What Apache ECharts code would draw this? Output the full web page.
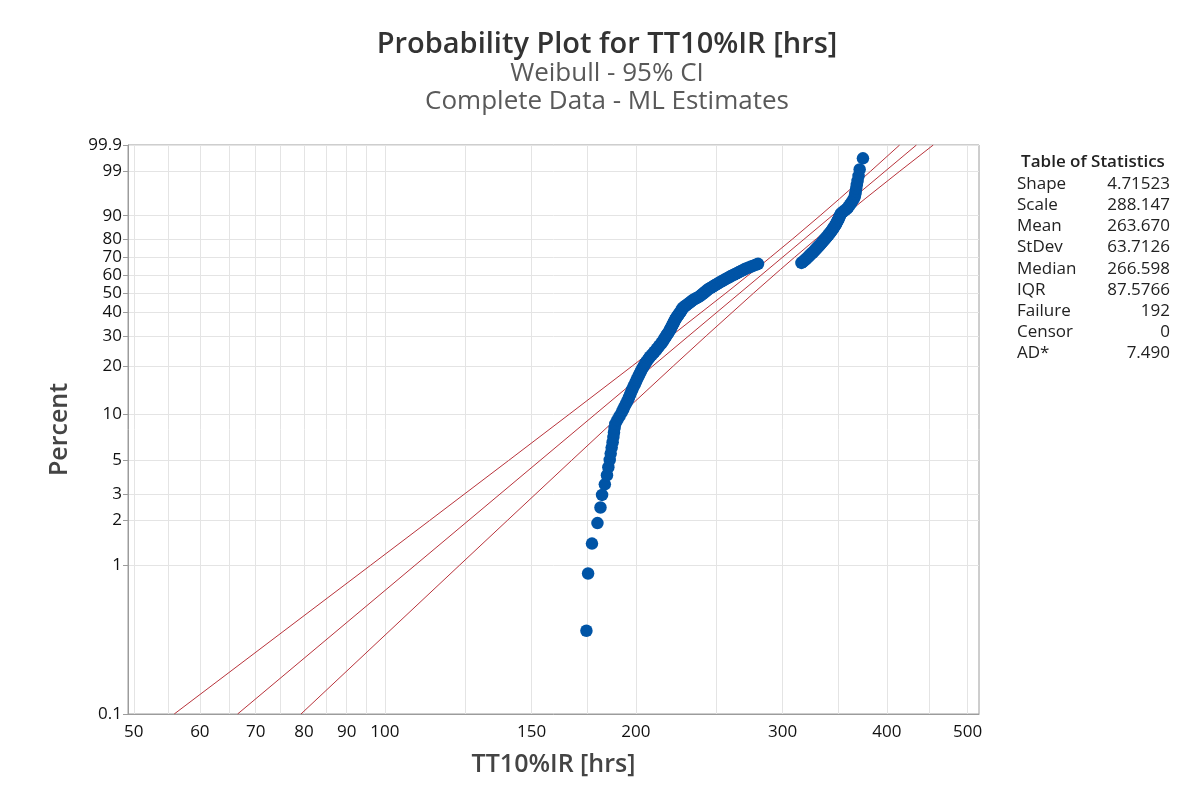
<!DOCTYPE html>
<html>
<head>
<meta charset="utf-8">
<script src="https://cdn.jsdelivr.net/npm/echarts@6/dist/echarts.min.js"></script>
<style>
  html, body { margin: 0; padding: 0; background: #ffffff; }
  #chart { width: 1200px; height: 804px; }
</style>
</head>
<body>
<div id="chart"></div>
<script>
// Sorted failure times (hours), 192 complete observations
const hours = [
  174.5,175.3,177.2,179.9,181.4,182.2,183.6,184.7,185.4,186.1,
  186.6,187.1,187.6,188.0,188.3,188.6,189.0,190.1,191.2,192.3,
  193.2,194.0,194.9,195.7,196.3,196.9,197.5,198.1,198.7,199.4,
  200.0,200.5,201.1,201.7,202.2,202.8,203.3,204.0,204.6,205.3,
  205.9,206.6,207.3,208.0,209.0,209.8,210.6,211.4,212.1,212.8,
  213.5,214.2,214.9,215.5,216.0,216.5,217.0,217.6,218.1,218.6,
  219.1,219.6,220.0,220.4,220.8,221.1,221.5,221.9,222.3,222.6,
  223.0,223.4,223.8,224.3,224.8,225.3,225.8,226.3,226.7,227.1,
  227.5,227.9,228.8,229.7,230.6,231.4,232.3,233.1,233.9,235.0,
  236.2,237.4,238.5,239.3,240.1,240.9,241.7,242.5,243.3,244.1,
  244.9,246.0,247.1,248.2,249.2,250.3,251.4,252.4,253.6,254.8,
  256.0,257.2,258.4,259.6,260.8,262.1,263.4,264.7,266.0,267.3,
  268.7,270.0,271.3,273.2,275.0,276.8,278.6,280.3,
  316.0,317.0,318.0,318.9,319.8,320.6,321.5,322.3,323.2,324.0,
  324.9,325.8,326.6,327.4,328.3,329.1,329.9,330.7,331.6,332.4,
  333.2,334.0,334.8,335.6,336.4,337.3,338.1,338.9,339.7,340.6,
  341.4,342.2,343.0,343.7,344.5,345.2,346.0,346.7,347.5,348.1,
  348.7,349.3,350.0,350.6,351.2,351.8,352.5,354.3,356.4,358.5,
  359.8,361.1,362.4,363.8,365.1,366.1,366.6,367.1,367.6,368.2,
  369.0,370.0,371.1,374.5
];

// Weibull ML estimates
const shape = 4.71523;
const scale = 288.147;

// 95% confidence bounds on the fitted percentiles (hours)
const ciPercent = [0.1, 1, 2, 5, 10, 20, 30, 50, 63.21, 70, 80, 90, 95, 99, 99.9];
const ciLower   = [55.90, 96.07, 113.15, 140.71, 166.42, 198.08, 220.67, 256.60, 278.38, 289.90, 308.56, 332.61, 351.03, 382.65, 414.43];
const ciUpper   = [79.33, 122.81, 140.22, 167.41, 192.08, 221.86, 242.99, 276.99, 298.27, 309.87, 329.28, 355.57, 376.70, 414.72, 454.76];

// Table of statistics
const statNames  = ['Shape', 'Scale', 'Mean', 'StDev', 'Median', 'IQR', 'Failure', 'Censor', 'AD*'];
const statValues = ['4.71523', '288.147', '263.670', '63.7126', '266.598', '87.5766', '192', '0', '7.490'];

// Axis ticks
const percentTicks = [0.1, 1, 2, 3, 5, 10, 20, 30, 40, 50, 60, 70, 80, 90, 99, 99.9];
const percentRange = [0.1, 99.9];
const hourTicks = [50, 60, 70, 80, 90, 100, 150, 200, 300, 400, 500];
const hourGrid  = [50, 55, 60, 65, 70, 75, 80, 85, 90, 95, 100, 125, 150, 175, 200, 250, 300, 350, 400, 450, 500];
const hourRange = [49.2, 516];

// Weibull probability paper: x -> ln(t), y -> ln(-ln(1 - p))
const wz = pct => Math.log(-Math.log(1 - pct / 100));
const lx = t => Math.log(t);

const n = hours.length;
const points = hours.map((t, i) => [lx(t), wz(100 * (i + 1 - 0.3) / (n + 0.4))]);

const fitAt = pct => Math.exp(Math.log(scale) + wz(pct) / shape);
const fitLine = percentRange.map(p => [lx(fitAt(p)), wz(p)]);
const lowerLine = ciPercent.map((p, i) => [lx(ciLower[i]), wz(p)]);
const upperLine = ciPercent.map((p, i) => [lx(ciUpper[i]), wz(p)]);

const yTickVals = percentTicks.map(wz);
const xLabelVals = hourTicks.map(lx);
const xGridVals = hourGrid.map(lx);

const FONT = '"Open Sans", "Noto Sans", sans-serif';
const redLine = { color: '#b8333b', width: 1 };

const chart = echarts.init(document.getElementById('chart'));

const graphics = [
  { type: 'text', style: { text: 'Probability Plot for TT10%IR [hrs]', x: 607, y: 45, textAlign: 'center', textVerticalAlign: 'middle', font: '600 29px ' + FONT, fill: '#333333' } },
  { type: 'text', style: { text: 'Weibull - 95% CI', x: 607, y: 74, textAlign: 'center', textVerticalAlign: 'middle', font: '400 26px ' + FONT, fill: '#595959' } },
  { type: 'text', style: { text: 'Complete Data - ML Estimates', x: 607, y: 102, textAlign: 'center', textVerticalAlign: 'middle', font: '400 26px ' + FONT, fill: '#595959' } },
  { type: 'text', style: { text: 'Table of Statistics', x: 1093, y: 162, textAlign: 'center', textVerticalAlign: 'middle', font: '600 17px ' + FONT, fill: '#222222' } }
];
statNames.forEach((name, i) => {
  const y = 184 + i * 21.2;
  graphics.push({ type: 'text', style: { text: name, x: 1017, y: y, textAlign: 'left', textVerticalAlign: 'middle', font: '400 17px ' + FONT, fill: '#222222' } });
  graphics.push({ type: 'text', style: { text: statValues[i], x: 1170, y: y, textAlign: 'right', textVerticalAlign: 'middle', font: '400 17px ' + FONT, fill: '#222222' } });
});

chart.setOption({
  animation: false,
  backgroundColor: '#ffffff',
  grid: { left: 128, right: 221, top: 145, bottom: 90, show: true, borderColor: '#9c9c9c', borderWidth: 1, backgroundColor: 'transparent' },
  xAxis: {
    type: 'value',
    min: lx(hourRange[0]),
    max: lx(hourRange[1]),
    name: 'TT10%IR [hrs]',
    nameLocation: 'middle',
    nameGap: 38,
    nameTextStyle: { fontSize: 25, fontWeight: 600, color: '#444444', fontFamily: FONT },
    axisLine: { onZero: false, lineStyle: { color: '#9c9c9c' } },
    axisTick: { show: false, customValues: xGridVals },
    axisLabel: { customValues: xLabelVals, formatter: v => String(Math.round(Math.exp(v))), fontSize: 17, color: '#111111', fontFamily: FONT, margin: 10 },
    splitLine: { show: true, lineStyle: { color: '#e4e4e4', width: 1 } }
  },
  yAxis: {
    type: 'value',
    min: wz(percentRange[0]),
    max: wz(percentRange[1]),
    name: 'Percent',
    nameLocation: 'middle',
    nameGap: 56,
    nameRotate: 90,
    nameTextStyle: { fontSize: 25, fontWeight: 600, color: '#444444', fontFamily: FONT },
    axisLine: { onZero: false, lineStyle: { color: '#9c9c9c' } },
    axisTick: { show: true, customValues: yTickVals, length: 5, lineStyle: { color: '#9c9c9c' } },
    axisLabel: {
      customValues: yTickVals,
      formatter: v => {
        let best = 0;
        yTickVals.forEach((t, i) => { if (Math.abs(t - v) < Math.abs(yTickVals[best] - v)) best = i; });
        return String(percentTicks[best]);
      },
      fontSize: 17, color: '#111111', fontFamily: FONT, margin: 6
    },
    splitLine: { show: true, lineStyle: { color: '#e4e4e4', width: 1 } }
  },
  series: [
    { type: 'line', data: lowerLine, showSymbol: false, lineStyle: redLine, z: 2, silent: true, clip: true },
    { type: 'line', data: fitLine, showSymbol: false, lineStyle: redLine, z: 2, silent: true, clip: true },
    { type: 'line', data: upperLine, showSymbol: false, lineStyle: redLine, z: 2, silent: true, clip: true },
    { type: 'scatter', data: points, symbol: 'circle', symbolSize: 12.5, itemStyle: { color: '#0054a6', opacity: 1 }, z: 3, silent: true }
  ],
  graphic: graphics
});
</script>
</body>
</html>
